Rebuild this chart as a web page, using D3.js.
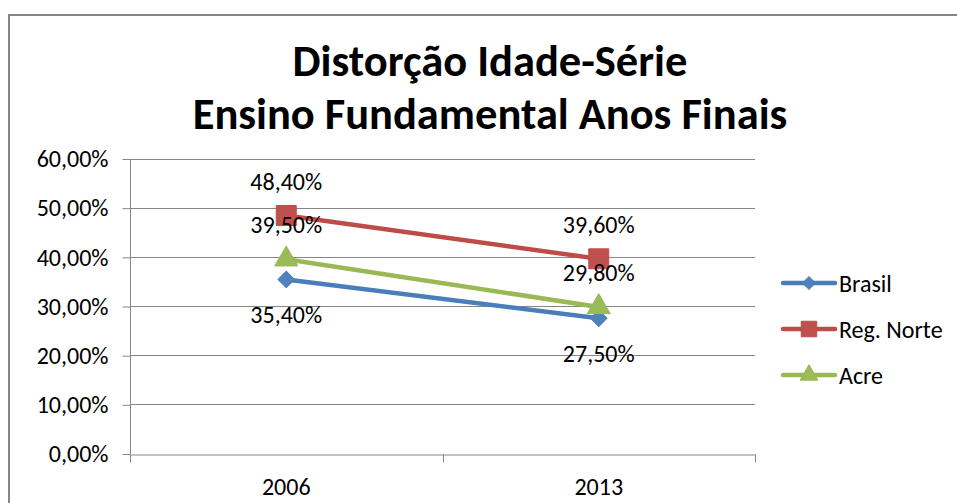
<!DOCTYPE html>
<html>
<head>
<meta charset="utf-8">
<script src="https://cdn.jsdelivr.net/npm/d3@7"></script>
<style>
  body { margin: 0; background: #fff; }
  svg { display: block; font-family: Carlito, "Liberation Sans Narrow", "Open Sans", sans-serif; }
</style>
</head>
<body>
<div id="chart"></div>
<script>
var categories = ["2006", "2013"];
var seriesNames = ["Brasil", "Reg. Norte", "Acre"];
var brasil = [0.354, 0.275];
var regNorte = [0.484, 0.396];
var acre = [0.395, 0.298];
var yTicks = [0, 0.1, 0.2, 0.3, 0.4, 0.5, 0.6];
var titleLines = ["Distorção Idade-Série", "Ensino Fundamental Anos Finais"];

var W = 957, H = 503;
var FONT = "Carlito, 'Liberation Sans Narrow', 'Open Sans', sans-serif";

var svg = d3.select("#chart").append("svg")
    .attr("width", W).attr("height", H);

// outer frame
svg.append("rect")
    .attr("x", 9).attr("y", 15)
    .attr("width", W + 20).attr("height", H + 20)
    .attr("fill", "#fff").attr("stroke", "#868686").attr("stroke-width", 2);

// title
svg.append("g").selectAll("text")
    .data(titleLines).enter().append("text")
    .attr("x", 490)
    .attr("y", function(d, i) { return 76 + i * 53; })
    .attr("text-anchor", "middle")
    .style("font-size", "44.5px")
    .style("font-weight", "bold")
    .text(function(d) { return d; });

var x = d3.scaleBand().domain(categories).range([130, 755]);
var y = d3.scaleLinear().domain([0, 0.6]).range([453.5, 158.5]);
var fmt = function(v) { return d3.format(".2f")(v * 100).replace(".", ",") + "%"; };

// gridlines
svg.append("g").selectAll("line")
    .data(yTicks.slice(1)).enter().append("line")
    .attr("x1", 130).attr("x2", 755)
    .attr("y1", function(d) { return Math.round(y(d)) + 0.5; })
    .attr("y2", function(d) { return Math.round(y(d)) + 0.5; })
    .attr("stroke", "#868686").attr("stroke-width", 1);

// y axis
var yAxis = svg.append("g")
    .attr("transform", "translate(130.5,0.5)")
    .call(d3.axisLeft(y).tickValues(yTicks).tickFormat(fmt).tickSize(8).tickPadding(14));
yAxis.select(".domain").attr("stroke", "#868686").attr("d", "M0," + Math.round(y(0.6)) + "V" + Math.round(y(0)));
yAxis.selectAll(".tick line").attr("stroke", "#868686");
yAxis.selectAll("text").style("font-size", "24px").attr("fill", "#000").style("font-family", FONT);

// x axis
var xAxis = svg.append("g")
    .attr("transform", "translate(0," + (Math.round(y(0)) + 0.5) + ")")
    .call(d3.axisBottom(x).tickSize(0).tickPadding(23));
xAxis.select(".domain").attr("stroke", "#868686");
xAxis.selectAll("text").style("font-size", "24px").attr("fill", "#000").style("font-family", FONT);
xAxis.selectAll(".sep").data([130, 130 + x.bandwidth(), 755]).enter().append("line")
    .attr("x1", function(d) { return Math.round(d) + 0.5; })
    .attr("x2", function(d) { return Math.round(d) + 0.5; })
    .attr("y1", 0).attr("y2", 8)
    .attr("stroke", "#868686");

// diamond drawn as a square turned 45 degrees
var series = [
  {name: seriesNames[0], values: brasil, line: "#4A7EBB", fill: "#4F81BD", shape: d3.symbolSquare, size: 135, rot: 45, labelDy: 44},
  {name: seriesNames[1], values: regNorte, line: "#BE4B48", fill: "#C0504D", shape: d3.symbolSquare, size: 400, rot: 0, labelDy: -26},
  {name: seriesNames[2], values: acre, line: "#98B954", fill: "#9BBB59", shape: d3.symbolTriangle, size: 230, rot: 0, labelDy: -26}
];

var line = d3.line()
    .x(function(d, i) { return x(categories[i]) + x.bandwidth() / 2; })
    .y(function(d) { return y(d); });

series.forEach(function(s) {
  var g = svg.append("g");
  g.append("path").datum(s.values)
      .attr("d", line)
      .attr("fill", "none").attr("stroke", s.line).attr("stroke-width", 4.5)
      .attr("stroke-linecap", "round");
  g.selectAll(".pt").data(s.values).enter().append("path")
      .attr("transform", function(d, i) {
        return "translate(" + (x(categories[i]) + x.bandwidth() / 2) + "," + y(d) + ") rotate(" + s.rot + ")";
      })
      .attr("d", d3.symbol().type(s.shape).size(s.size))
      .attr("fill", s.fill).attr("stroke", s.line).attr("stroke-width", 1);
});

series.forEach(function(s) {
  svg.append("g").selectAll("text").data(s.values).enter().append("text")
      .attr("x", function(d, i) { return x(categories[i]) + x.bandwidth() / 2; })
      .attr("y", function(d) { return y(d) + s.labelDy; })
      .attr("text-anchor", "middle")
      .style("font-size", "24px")
      .text(fmt);
});

// legend
var legend = svg.append("g").attr("transform", "translate(783,283)");
series.forEach(function(s, i) {
  var row = legend.append("g").attr("transform", "translate(0," + (i * 46) + ")");
  row.append("line").attr("x1", 0).attr("x2", 52).attr("y1", 0).attr("y2", 0)
      .attr("stroke", s.line).attr("stroke-width", 4.5).attr("stroke-linecap", "round");
  row.append("path").attr("transform", "translate(26,0) rotate(" + s.rot + ")")
      .attr("d", d3.symbol().type(s.shape).size(s.size * 0.6))
      .attr("fill", s.fill).attr("stroke", s.line);
  row.append("text").attr("x", 56).attr("y", 9)
      .style("font-size", "24px")
      .text(s.name);
});
</script>
</body>
</html>
